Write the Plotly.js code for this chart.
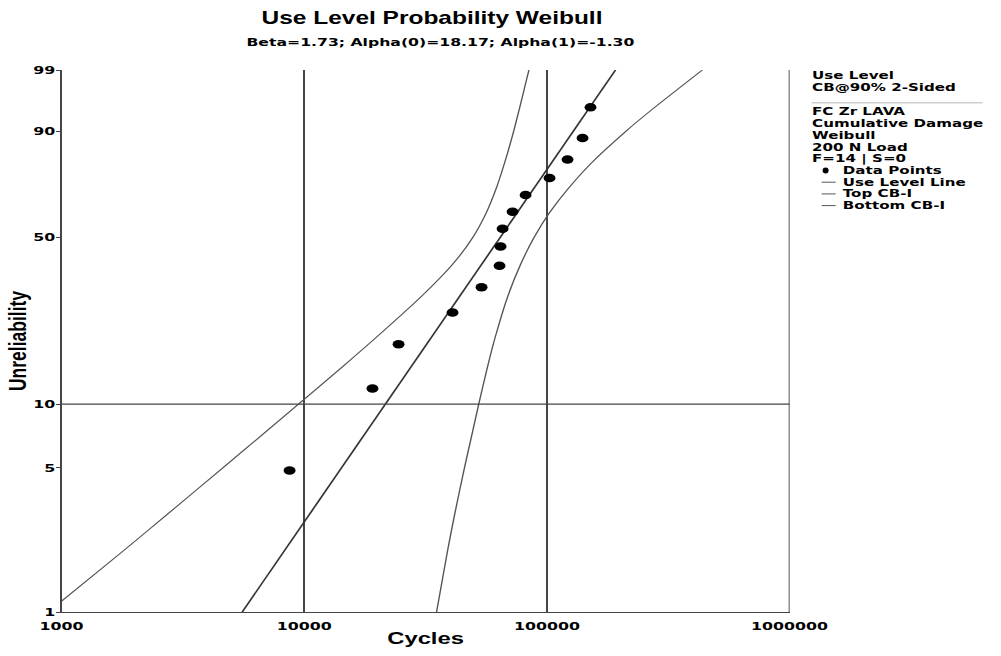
<!DOCTYPE html>
<html><head><meta charset="utf-8">
<script src="https://cdn.plot.ly/plotly-3.0.1.min.js"></script>
<style>
html,body{margin:0;padding:0;overflow:hidden;background:#fff;width:1001px;height:656px;}
#wrap{width:1001px;height:656px;overflow:hidden;}
#chart{width:715px;height:656px;transform:scaleX(1.4);transform-origin:0 0;}
</style></head><body><div id="wrap"><div id="chart"></div></div>
<script>
// ---- data ----
const xTickVals = [1000, 10000, 100000, 1000000];
const xTickText = ["1000", "10000", "100000", "1000000"];
const yTickPct = [1, 5, 10, 50, 90, 99];
const yTickText = ["1", "5", "10", "50", "90", "99"];

const cycles = [8700, 19100, 24470, 40830, 53780, 63780, 64390, 65640, 72170, 81660, 102500, 121600, 140200, 151200];
const unreliability = [4.86, 11.81, 18.75, 25.69, 32.64, 39.58, 46.53, 53.47, 60.42, 67.36, 74.31, 81.25, 88.19, 95.14];

const useLineCycles = [5550, 191700];
const useLinePct = [1, 99];

const topCBCycles = [1000, 1809, 2739, 4618, 6538, 9465, 14520, 19720, 30430, 40790, 49470, 56220, 61750, 66890, 72920, 77130, 84300];
const topCBPct = [1.13, 2, 3, 5, 7, 10, 15, 20, 30, 40, 50, 60, 70, 80, 90, 95, 99];

const botCBCycles = [35090, 38980, 41700, 45720, 48820, 52360, 57040, 61120, 68960, 77840, 88480, 102400, 122200, 152500, 211400, 276000, 437200];
const botCBPct = [1, 2, 3, 5, 7, 10, 15, 20, 30, 40, 50, 60, 70, 80, 90, 95, 99];

const headerLines = ["Use Level", "CB@90% 2-Sided"];
const infoLines = ["FC Zr LAVA", "Cumulative Damage", "Weibull", "200 N Load", "F=14 | S=0"];
const legendLabels = ["Data Points", "Use Level Line", "Top CB-I", "Bottom CB-I"];

const chartTitle = "Use Level Probability Weibull";
const chartSubtitle = "Beta=1.73; Alpha(0)=18.17; Alpha(1)=-1.30";
const xTitle = "Cycles";
const yTitle = "Unreliability";

// ---- geometry helpers ----
const S = 1.4, W = 1001 / S, H = 656;
const ML = 62 / S, MR = (1001 - 790) / S, MT = 70, MB = 44;
const PW = W - ML - MR, PH = H - MT - MB;
const pxX = px => (px / S - ML) / PW;
const pxY = py => (H - MB - py) / PH;
const wb = p => Math.log(-Math.log(1 - p / 100));

const lineCol = '#454545';
const traces = [
  {x: topCBCycles, y: topCBPct.map(wb), mode: 'lines', name: 'Top CB-I',
   line: {color: '#555', width: 1, shape: 'spline', smoothing: 0.8}},
  {x: botCBCycles, y: botCBPct.map(wb), mode: 'lines', name: 'Bottom CB-I',
   line: {color: '#555', width: 1, shape: 'spline', smoothing: 0.8}},
  {x: useLineCycles, y: useLinePct.map(wb), mode: 'lines', name: 'Use Level Line',
   line: {color: '#333', width: 1.3}},
  {x: cycles, y: unreliability.map(wb), mode: 'markers', name: 'Data Points',
   marker: {color: '#000', size: 8.5}}
];

const tickFont = {family: 'DejaVu Sans', size: 11.3, weight: 'bold', color: '#000'};
const legFont = {family: 'DejaVu Sans', size: 10.8, weight: 'bold', color: '#000'};

const annotations = [];
annotations.push({xref: 'paper', yref: 'paper', x: pxX(441), y: pxY(42), xanchor: 'center', yanchor: 'middle',
  text: chartSubtitle, showarrow: false, font: {family: 'DejaVu Sans', size: 11.2, weight: 'bold', color: '#000'}});
const hdrY = [75, 87];
headerLines.forEach((t, i) => annotations.push({xref: 'paper', yref: 'paper', x: pxX(810), y: pxY(hdrY[i]),
  xanchor: 'left', yanchor: 'middle', text: t, showarrow: false, font: legFont}));
const infoY = [112, 123.7, 135.4, 147.1, 158.8];
infoLines.forEach((t, i) => annotations.push({xref: 'paper', yref: 'paper', x: pxX(810), y: pxY(infoY[i]),
  xanchor: 'left', yanchor: 'middle', text: t, showarrow: false, font: legFont}));
const legY = [170.5, 182.2, 193.9, 205.6];
legendLabels.forEach((t, i) => annotations.push({xref: 'paper', yref: 'paper', x: pxX(841), y: pxY(legY[i]),
  xanchor: 'left', yanchor: 'middle', text: t, showarrow: false, font: legFont}));

const shapes = [
  {type: 'line', xref: 'paper', yref: 'y', x0: 0, x1: 1, y0: wb(10), y1: wb(10), line: {color: lineCol, width: 1.3}},
  {type: 'line', xref: 'x', yref: 'paper', x0: 1000000, x1: 1000000, y0: 0, y1: 1, line: {color: lineCol, width: 1.3}},
  {type: 'line', xref: 'paper', yref: 'paper', x0: pxX(812), x1: pxX(983), y0: pxY(102.7), y1: pxY(102.7), line: {color: '#cfcfcf', width: 1.5}},
  {type: 'circle', xref: 'paper', yref: 'paper', x0: pxX(823), x1: pxX(829), y0: pxY(167.5), y1: pxY(173.5), fillcolor: '#000', line: {width: 0}},
  {type: 'line', xref: 'paper', yref: 'paper', x0: pxX(822), x1: pxX(836), y0: pxY(182.2), y1: pxY(182.2), line: {color: '#555', width: 1}},
  {type: 'line', xref: 'paper', yref: 'paper', x0: pxX(822), x1: pxX(836), y0: pxY(193.9), y1: pxY(193.9), line: {color: '#555', width: 1}},
  {type: 'line', xref: 'paper', yref: 'paper', x0: pxX(822), x1: pxX(836), y0: pxY(205.6), y1: pxY(205.6), line: {color: '#555', width: 1}}
];

const layout = {
  width: W, height: H,
  margin: {l: ML, r: MR, t: MT, b: MB, pad: 0},
  paper_bgcolor: '#fff', plot_bgcolor: '#fff',
  showlegend: false,
  title: {text: chartTitle, x: 432 / 1001, xref: 'container', xanchor: 'center', y: 1 - 18 / H, yanchor: 'middle',
          font: {family: 'Liberation Sans', size: 17.5, weight: 'bold', color: '#000'}},
  xaxis: {type: 'log', range: [3, 6], tickmode: 'array', tickvals: xTickVals, ticktext: xTickText,
          showgrid: true, gridcolor: lineCol, gridwidth: 1.3, showline: true, linecolor: lineCol, linewidth: 1.3,
          zeroline: false, ticks: '', tickfont: tickFont, ticklabelstandoff: 3,
          title: {text: xTitle, standoff: 0, font: {family: 'Liberation Sans', size: 17, weight: 'bold', color: '#000'}}},
  yaxis: {type: 'linear', range: [wb(1), wb(99)], tickmode: 'array', tickvals: yTickPct.map(wb), ticktext: yTickText,
          showgrid: false, showline: true, linecolor: lineCol, linewidth: 1.3, zeroline: false,
          ticks: 'outside', ticklen: 3, tickcolor: lineCol, tickwidth: 1, tickfont: tickFont, ticklabelstandoff: -2,
          title: {text: yTitle, standoff: 0, font: {family: 'Liberation Sans', size: 17.5, weight: 'bold', color: '#000'}}},
  annotations: annotations,
  shapes: shapes
};

Plotly.newPlot('chart', traces, layout, {displayModeBar: false, staticPlot: true});
</script>
</body></html>
